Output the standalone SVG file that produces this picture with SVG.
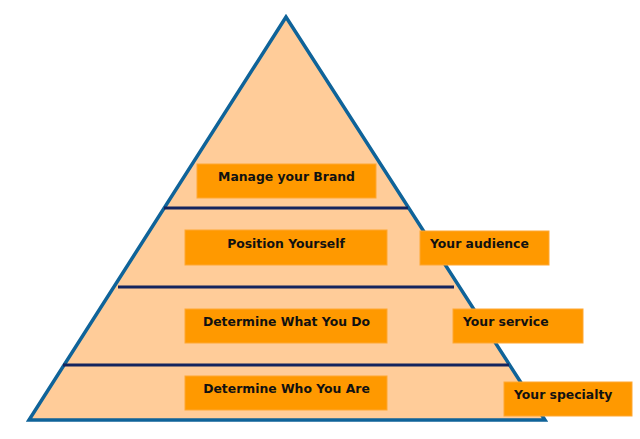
<svg xmlns="http://www.w3.org/2000/svg" width="640" height="439" viewBox="0 0 640 439">
<style>
.box{fill:#FF9900;stroke:#FFA733;stroke-width:1}
.t{font-family:"DejaVu Sans",Verdana,sans-serif;font-weight:bold;font-size:12.4px;fill:#111}
.c{text-anchor:middle}
.div{stroke:#14245E;stroke-width:3}
</style>
<rect width="640" height="439" fill="#fff"/>
<g id="pyramid">
<polygon points="286,17 29,420 545,420" fill="#FFCC99" stroke="#0F6399" stroke-width="3.5" stroke-linejoin="miter"/>
</g>
<g id="connectors">
<line class="div" x1="164" y1="208" x2="408" y2="208"/>
<line class="div" x1="118" y1="287" x2="454" y2="287"/>
<line class="div" x1="63" y1="365" x2="509" y2="365"/>
</g>
<g id="manage-brand">
<rect class="box" x="197" y="164" width="179" height="34"/>
<text class="t c" x="286.5" y="181">Manage your Brand</text>
</g>
<g id="position-yourself">
<rect class="box" x="185" y="230" width="202" height="35"/>
<text class="t c" x="286" y="248">Position Yourself</text>
</g>
<g id="determine-what">
<rect class="box" x="185" y="309" width="202" height="34"/>
<text class="t c" x="286.5" y="326">Determine What You Do</text>
</g>
<g id="determine-who">
<rect class="box" x="185" y="376" width="202" height="34"/>
<text class="t c" x="286.5" y="393">Determine Who You Are</text>
</g>
<g id="your-audience">
<rect class="box" x="420" y="231" width="129" height="34"/>
<text class="t" x="430" y="248">Your audience</text>
</g>
<g id="your-service">
<rect class="box" x="453" y="309" width="130" height="34"/>
<text class="t" x="463" y="326">Your service</text>
</g>
<g id="your-specialty">
<rect class="box" x="504" y="382" width="128" height="34"/>
<text class="t" x="514" y="399">Your specialty</text>
</g>
</svg>
